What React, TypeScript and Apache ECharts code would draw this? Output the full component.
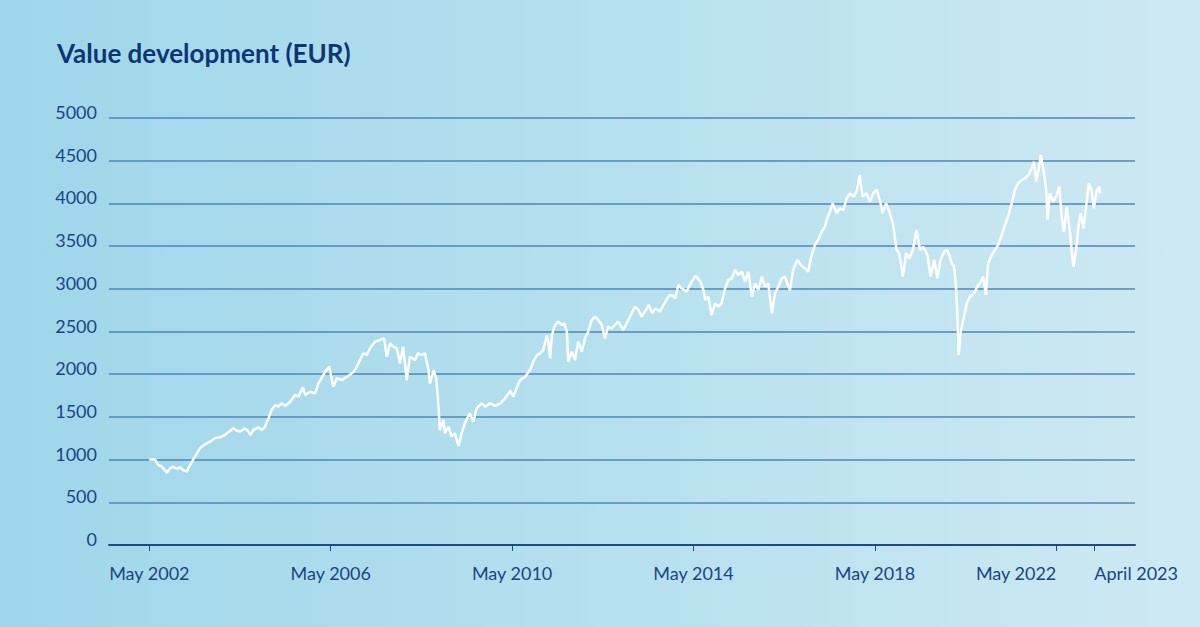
import React, { useEffect, useRef } from "react";
import * as echarts from "echarts";

// Decimal-year positions of the observations
const years = [
  2002.33, 2002.46, 2002.53, 2002.61, 2002.72, 2002.79, 2002.86, 2002.94, 2003.01, 2003.08,
  2003.16, 2003.23, 2003.34, 2003.45, 2003.56, 2003.67, 2003.78, 2003.89, 2004.0, 2004.11,
  2004.19, 2004.26, 2004.33, 2004.44, 2004.52, 2004.57, 2004.63, 2004.74, 2004.81, 2004.88,
  2004.96, 2005.03, 2005.11, 2005.18, 2005.25, 2005.33, 2005.44, 2005.55, 2005.62, 2005.72,
  2005.77, 2005.88, 2005.99, 2006.06, 2006.13, 2006.21, 2006.3, 2006.39, 2006.47, 2006.58,
  2006.69, 2006.8, 2006.87, 2006.98, 2007.05, 2007.13, 2007.2, 2007.31, 2007.42, 2007.51,
  2007.57, 2007.64, 2007.71, 2007.79, 2007.86, 2007.93, 2008.01, 2008.08, 2008.19, 2008.26,
  2008.34, 2008.41, 2008.49, 2008.52, 2008.6, 2008.66, 2008.71, 2008.74, 2008.82, 2008.85,
  2008.93, 2009.0, 2009.07, 2009.15, 2009.22, 2009.29, 2009.4, 2009.48, 2009.55, 2009.66,
  2009.74, 2009.85, 2009.96, 2010.07, 2010.18, 2010.29, 2010.36, 2010.43, 2010.51, 2010.62,
  2010.73, 2010.8, 2010.88, 2010.95, 2011.02, 2011.1, 2011.13, 2011.17, 2011.21, 2011.28,
  2011.35, 2011.43, 2011.48, 2011.54, 2011.57, 2011.65, 2011.72, 2011.79, 2011.87, 2011.94,
  2012.01, 2012.09, 2012.16, 2012.23, 2012.31, 2012.38, 2012.45, 2012.53, 2012.6, 2012.67,
  2012.79, 2012.86, 2012.97, 2013.04, 2013.12, 2013.19, 2013.26, 2013.35, 2013.42, 2013.5,
  2013.59, 2013.67, 2013.78, 2013.85, 2013.93, 2014.0, 2014.07, 2014.18, 2014.29, 2014.38,
  2014.48, 2014.55, 2014.59, 2014.66, 2014.73, 2014.81, 2014.88, 2014.95, 2015.03, 2015.1,
  2015.18, 2015.25, 2015.32, 2015.4, 2015.47, 2015.54, 2015.62, 2015.69, 2015.76, 2015.84,
  2015.91, 2015.98, 2016.06, 2016.13, 2016.2, 2016.28, 2016.35, 2016.4, 2016.46, 2016.53,
  2016.62, 2016.72, 2016.79, 2016.86, 2016.92, 2017.01, 2017.08, 2017.16, 2017.23, 2017.28,
  2017.34, 2017.4, 2017.49, 2017.56, 2017.64, 2017.71, 2017.78, 2017.86, 2017.93, 2018.0,
  2018.06, 2018.15, 2018.22, 2018.3, 2018.37, 2018.45, 2018.5, 2018.58, 2018.65, 2018.73,
  2018.78, 2018.81, 2018.87, 2018.95, 2019.02, 2019.09, 2019.17, 2019.25, 2019.33, 2019.4,
  2019.49, 2019.56, 2019.64, 2019.71, 2019.78, 2019.86, 2019.93, 2020.03, 2020.08, 2020.12,
  2020.15, 2020.18, 2020.22, 2020.28, 2020.36, 2020.43, 2020.52, 2020.59, 2020.67, 2020.72,
  2020.78, 2020.83, 2020.91, 2020.98, 2021.05, 2021.13, 2021.2, 2021.27, 2021.35, 2021.42,
  2021.49, 2021.57, 2021.64, 2021.72, 2021.79, 2021.84, 2021.89, 2021.94, 2021.99, 2022.05,
  2022.11, 2022.14, 2022.19, 2022.27, 2022.34, 2022.4, 2022.45, 2022.5, 2022.56, 2022.62,
  2022.67, 2022.71, 2022.77, 2022.82, 2022.87, 2022.93, 2022.99, 2023.05, 2023.11, 2023.16,
  2023.22, 2023.28, 2023.3,
];

// Portfolio value in EUR
const values = [
  1000, 1000, 937, 917, 847, 898, 917, 890, 910, 878,
  858, 937, 1034, 1132, 1179, 1210, 1249, 1261, 1288, 1335,
  1366, 1338, 1327, 1366, 1327, 1288, 1347, 1378, 1347, 1378,
  1484, 1581, 1640, 1620, 1659, 1628, 1678, 1757, 1737, 1847,
  1757, 1795, 1776, 1893, 1952, 2029, 2088, 1854, 1952, 1932,
  1971, 2011, 2049, 2166, 2245, 2225, 2303, 2381, 2401, 2420,
  2205, 2362, 2322, 2303, 2128, 2322, 1932, 2205, 2166, 2245,
  2225, 2245, 2049, 1893, 2049, 1952, 1620, 1347, 1464, 1308,
  1386, 1269, 1308, 1159, 1308, 1425, 1542, 1444, 1601, 1659,
  1620, 1659, 1628, 1659, 1718, 1807, 1737, 1835, 1932, 1971,
  2049, 2146, 2225, 2245, 2284, 2459, 2381, 2186, 2459, 2576,
  2615, 2576, 2596, 2498, 2146, 2264, 2166, 2381, 2264, 2420,
  2498, 2635, 2674, 2635, 2576, 2420, 2557, 2537, 2576, 2615,
  2518, 2596, 2713, 2791, 2752, 2674, 2732, 2810, 2713, 2771,
  2732, 2810, 2908, 2928, 2889, 3045, 3006, 2967, 3084, 3150,
  3090, 2986, 2869, 2908, 2693, 2830, 2791, 2830, 3006, 3103,
  3123, 3220, 3162, 3201, 3084, 3201, 2908, 3065, 2986, 3142,
  3025, 3065, 2713, 2947, 3025, 3123, 3142, 3065, 2986, 3220,
  3337, 3267, 3240, 3201, 3357, 3513, 3572, 3669, 3728, 3826,
  3903, 4001, 3884, 3943, 3923, 4060, 4118, 4079, 4138, 4333,
  4079, 4118, 4020, 4120, 4160, 4020, 3884, 4001, 3903, 3767,
  3572, 3455, 3416, 3142, 3416, 3357, 3455, 3689, 3455, 3493,
  3396, 3142, 3337, 3123, 3337, 3435, 3455, 3299, 3259, 3025,
  2713, 2225, 2479, 2635, 2830, 2908, 2947, 3025, 3084, 3142,
  2928, 3299, 3396, 3455, 3513, 3630, 3747, 3845, 4001, 4157,
  4235, 4274, 4294, 4333, 4411, 4489, 4255, 4391, 4567, 4391,
  4157, 3806, 4118, 4020, 4099, 4196, 3845, 3669, 3962, 3728,
  3455, 3259, 3455, 3728, 3884, 3708, 3962, 4235, 4157, 3943,
  4138, 4196, 4118,
];

// Main date ticks (May each fourth year) and the final "as of" tick
const tickYears = [2002.333, 2006.333, 2010.333, 2014.333, 2018.333, 2022.333];
const tickLabels = ["May 2002", "May 2006", "May 2010", "May 2014", "May 2018", "May 2022"];
const endTickYears = [2023.17];
const endTickLabels = ["April 2023"];
const xRange = [2001.444, 2024.068];
const yRange = [0, 5000];
const yStep = 500;

const TITLE = "Value development (EUR)";
const NAVY = "#0d3677";
const LABEL = "#1a4584";
const AXIS = "#1d4a8a";

function nearestLabel(v: number, ticks: number[], labels: string[]) {
  let idx = 0;
  let best = Infinity;
  ticks.forEach((t, i) => {
    const d = Math.abs(t - v);
    if (d < best) { best = d; idx = i; }
  });
  return labels[idx];
}

export default function App() {
  const ref = useRef<HTMLDivElement>(null);

  useEffect(() => {
    if (!ref.current) return;
    const chart = echarts.init(ref.current, undefined, { renderer: "svg" });
    const data = years.map((y, i) => [y, values[i]]);

    const labelFont = { fontFamily: "Lato", fontSize: 18, color: LABEL };

    chart.setOption({
      animation: false,
      backgroundColor: {
        type: "linear",
        x: 0, y: 0, x2: 1, y2: 0,
        colorStops: [
          { offset: 0, color: "#9fd6ea" },
          { offset: 0.5, color: "#b5e0ee" },
          { offset: 1, color: "#cee9f3" },
        ],
      },
      title: {
        text: TITLE,
        left: 52,
        top: 35,
        textStyle: { fontFamily: "Lato", fontWeight: "bold", fontSize: 26, color: NAVY },
      },
      grid: { left: 109, right: 65, top: 118, bottom: 82, outerBoundsMode: "none", containLabel: false },
      xAxis: [
        {
          type: "value",
          position: "bottom",
          min: xRange[0],
          max: xRange[1],
          splitLine: { show: false },
          axisLine: { show: true, onZero: false, lineStyle: { color: AXIS, width: 2 } },
          axisTick: {
            show: true,
            customValues: tickYears,
            length: 6,
            lineStyle: { color: AXIS, width: 1 },
          },
          axisLabel: {
            customValues: tickYears,
            hideOverlap: false,
            showMinLabel: true,
            showMaxLabel: true,
            alignMaxLabel: "right",
            margin: 19,
            ...labelFont,
            formatter: (v: number) => nearestLabel(v, tickYears, tickLabels),
          },
        },
        {
          type: "value",
          position: "bottom",
          offset: 0,
          min: xRange[0],
          max: xRange[1],
          splitLine: { show: false },
          axisLine: { show: false, onZero: false },
          axisTick: {
            show: true,
            customValues: endTickYears,
            length: 6,
            lineStyle: { color: AXIS, width: 1 },
          },
          axisLabel: {
            customValues: endTickYears,
            hideOverlap: false,
            showMinLabel: true,
            showMaxLabel: true,
            align: "left",
            alignMinLabel: "left",
            alignMaxLabel: "left",
            margin: 19,
            ...labelFont,
            formatter: (v: number) => nearestLabel(v, endTickYears, endTickLabels),
          },
        },
      ],
      yAxis: {
        type: "value",
        min: yRange[0],
        max: yRange[1],
        interval: yStep,
        axisLine: { show: false },
        axisTick: { show: false },
        splitLine: { show: true, lineStyle: { color: "#4f86b8", width: 1.5 } },
        axisLabel: {
          margin: 12,
          verticalAlign: "bottom",
          lineHeight: 12,
          ...labelFont,
          formatter: (v: number) => String(v),
        },
      },
      series: [
        {
          type: "line",
          xAxisIndex: 0,
          data,
          showSymbol: false,
          symbol: "none",
          lineStyle: { color: "#ffffff", width: 2.5 },
          z: 5,
        },
      ],
    });

    return () => chart.dispose();
  }, []);

  return (
    <div
      ref={ref}
      style={{ position: "fixed", left: 0, top: 0, width: 1200, height: 627 }}
    />
  );
}
